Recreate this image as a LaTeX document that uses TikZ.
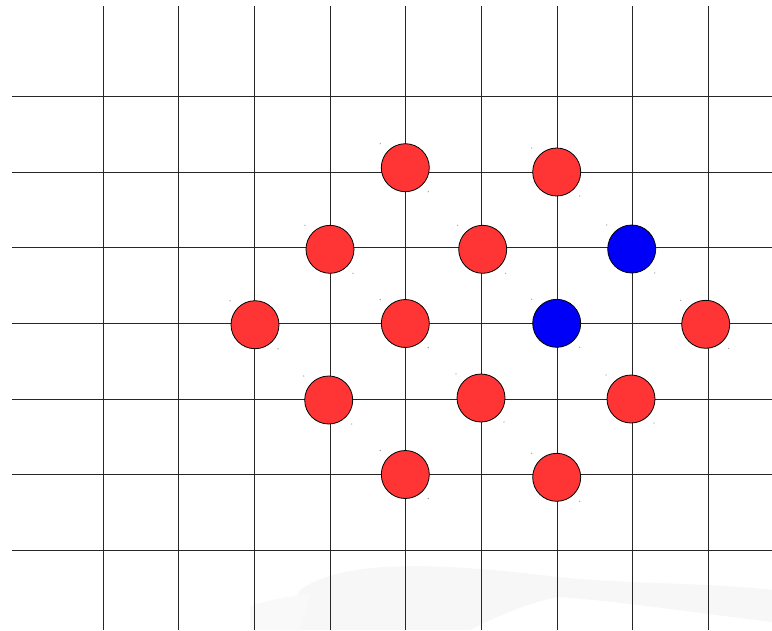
\documentclass[tikz,border=0pt]{standalone}
\usepackage{tikz}
\definecolor{redc}{HTML}{FF3434}
\definecolor{bluec}{HTML}{0000F8}
\tikzset{
  gridline/.style={black!85, line width=0.9pt},
  redball/.style={circle, draw=black, line width=0.8pt, fill=redc, minimum size=48pt, inner sep=0pt},
  blueball/.style={circle, draw=black, line width=0.8pt, fill=bluec, minimum size=48pt, inner sep=0pt},
  speck/.style={fill=black!45, draw=none, circle, inner sep=0pt, minimum size=1.2pt}
}
\begin{document}
\begin{tikzpicture}[x=1pt,y=-1pt]
\useasboundingbox[fill=white] (0,0) rectangle (772,630);
% faint background wave
\fill[black!3] (300,590) .. controls (340,562) and (420,560) .. (557,577)
  .. controls (640,585) and (700,582) .. (772,590) -- (772,622)
  .. controls (690,612) and (610,600) .. (557,597)
  .. controls (520,605) and (490,620) .. (470,630) -- (280,630) -- cycle;
\fill[black!2.5] (250,606) .. controls (270,600) and (290,596) .. (310,594)
  -- (300,630) -- (250,630) -- cycle;
% grid
\foreach \x in {103,178.5,254.5,330,405.3,481.3,557,632.5,708}
  \draw[gridline] (\x,6) -- (\x,630);
\foreach \y in {96.7,172,247.7,323.3,399,474.5,550}
  \draw[gridline] (12,\y) -- (772,\y);
% balls
\foreach \n/\x/\y/\s in {a/405.3/167.7/redball, b/556.7/172/redball,
  c/330/249.3/redball, d/482.7/249.3/redball, e/631.7/249/blueball,
  f/255/324.7/redball, g/405.3/323.5/redball, h/556.7/323.3/blueball, i/705.7/324.3/redball,
  j/328.7/400/redball, k/481/398/redball, l/631/399/redball,
  m/405.3/474.5/redball, n/556.7/477.3/redball}
{
  \node[\s] (\n) at (\x,\y) {};
  \node[speck] (\n tl) at (\x-25,\y-24) {};
  \node[speck] (\n br) at (\x+23,\y+24) {};
}
\end{tikzpicture}
\end{document}
